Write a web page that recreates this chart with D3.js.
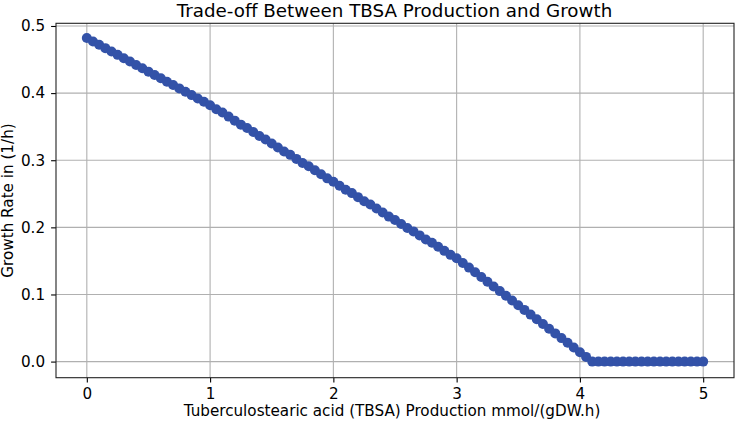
<!DOCTYPE html>
<html>
<head>
<meta charset="utf-8">
<script src="https://cdn.jsdelivr.net/npm/d3@7"></script>
<style>
  html, body { margin: 0; padding: 0; background: #fff; }
  text { font-family: "DejaVu Sans", sans-serif; fill: #000; }
</style>
</head>
<body>
<svg id="chart" width="735" height="425"></svg>
<script>
const title = "Trade-off Between TBSA Production and Growth";
const xLabel = "Tuberculostearic acid (TBSA) Production mmol/(gDW.h)";
const yLabel = "Growth Rate in (1/h)";

const tbsaProduction = [
  0.00,0.05,0.10,0.15,0.20,0.25,0.30,0.35,0.40,0.45,
  0.50,0.55,0.60,0.65,0.70,0.75,0.80,0.85,0.90,0.95,
  1.00,1.05,1.10,1.15,1.20,1.25,1.30,1.35,1.40,1.45,
  1.50,1.55,1.60,1.65,1.70,1.75,1.80,1.85,1.90,1.95,
  2.00,2.05,2.10,2.15,2.20,2.25,2.30,2.35,2.40,2.45,
  2.50,2.55,2.60,2.65,2.70,2.75,2.80,2.85,2.90,2.95,
  3.00,3.05,3.10,3.15,3.20,3.25,3.30,3.35,3.40,3.45,
  3.50,3.55,3.60,3.65,3.70,3.75,3.80,3.85,3.90,3.95,
  4.00,4.05,4.10,4.15,4.20,4.25,4.30,4.35,4.40,4.45,
  4.50,4.55,4.60,4.65,4.70,4.75,4.80,4.85,4.90,4.95,
  5.00
];
const growthRate = [
  0.482,0.477,0.472,0.467,0.462,0.457,0.452,0.447,0.442,0.437,
  0.432,0.427,0.422,0.417,0.412,0.407,0.402,0.397,0.392,0.387,
  0.382,0.376,0.371,0.365,0.359,0.353,0.348,0.342,0.336,0.331,
  0.325,0.319,0.313,0.308,0.302,0.296,0.291,0.285,0.279,0.273,
  0.268,0.262,0.256,0.251,0.245,0.239,0.234,0.228,0.222,0.216,
  0.211,0.205,0.199,0.194,0.188,0.182,0.177,0.171,0.165,0.159,
  0.154,0.147,0.140,0.133,0.126,0.119,0.112,0.105,0.098,0.091,
  0.084,0.077,0.070,0.063,0.056,0.049,0.042,0.035,0.028,0.021,
  0.014,0.007,0.000,0.000,0.000,0.000,0.000,0.000,0.000,0.000,
  0.000,0.000,0.000,0.000,0.000,0.000,0.000,0.000,0.000,0.000,
  0.000
];
const xTicks = [0, 1, 2, 3, 4, 5];
const yTicks = [0.0, 0.1, 0.2, 0.3, 0.4, 0.5];

const svg = d3.select("#chart");
const mLeft = 56, mRight = 734, mTop = 23.3, mBottom = 377.7;

const x = d3.scaleLinear().domain([-0.25, 5.25]).range([mLeft, mRight]);
const y = d3.scaleLinear().domain([-0.024, 0.504]).range([mBottom, mTop]);

// grid
const grid = svg.append("g");
grid.selectAll("line.gx").data(xTicks).enter().append("line")
  .attr("x1", d => x(d)).attr("x2", d => x(d))
  .attr("y1", mTop).attr("y2", mBottom)
  .attr("stroke", "#b0b0b0").attr("stroke-width", 1.1);
grid.selectAll("line.gy").data(yTicks).enter().append("line")
  .attr("x1", mLeft).attr("x2", mRight)
  .attr("y1", d => y(d)).attr("y2", d => y(d))
  .attr("stroke", "#b0b0b0").attr("stroke-width", 1.1);

// data
const data = tbsaProduction.map((v, i) => ({x: v, y: growthRate[i]}));
const color = "#3352a8";
svg.append("path").datum(data)
  .attr("fill", "none").attr("stroke", color).attr("stroke-width", 2)
  .attr("d", d3.line().x(d => x(d.x)).y(d => y(d.y)));
svg.append("g").selectAll("circle").data(data).enter().append("circle")
  .attr("cx", d => x(d.x)).attr("cy", d => y(d.y)).attr("r", 5)
  .attr("fill", color);

// axes
const xAxis = d3.axisBottom(x).tickValues(xTicks).tickFormat(d3.format("d"))
  .tickSize(4.9).tickPadding(5.5);
const gx = svg.append("g").attr("transform", `translate(0,${mBottom})`).call(xAxis);
const yAxis = d3.axisLeft(y).tickValues(yTicks).tickFormat(d3.format(".1f"))
  .tickSize(4.9).tickPadding(6);
const gy = svg.append("g").attr("transform", `translate(${mLeft},0)`).call(yAxis);
[gx, gy].forEach(g => {
  g.select(".domain").remove();
  g.selectAll(".tick line").attr("stroke", "#000").attr("stroke-width", 1.1);
  g.selectAll(".tick text").style("font-size", "15.2px")
    .style("font-family", "DejaVu Sans, sans-serif").attr("fill", "#222");
});

// frame
svg.append("rect").attr("x", mLeft).attr("y", mTop)
  .attr("width", mRight - mLeft).attr("height", mBottom - mTop)
  .attr("fill", "none").attr("stroke", "#222").attr("stroke-width", 1.1);

// labels
svg.append("text").attr("x", (mLeft + mRight) / 2 - 0.5).attr("y", 17)
  .attr("text-anchor", "middle").style("font-size", "18.3px").attr("fill", "#222").text(title);
svg.append("text").attr("x", (mLeft + mRight) / 2 - 3).attr("y", 416)
  .attr("text-anchor", "middle").style("font-size", "15.2px").attr("fill", "#222").text(xLabel);
svg.append("text")
  .attr("transform", `translate(13,${(mTop + mBottom) / 2}) rotate(-90)`)
  .attr("text-anchor", "middle").style("font-size", "15.2px").attr("fill", "#222").text(yLabel);
</script>
</body>
</html>
